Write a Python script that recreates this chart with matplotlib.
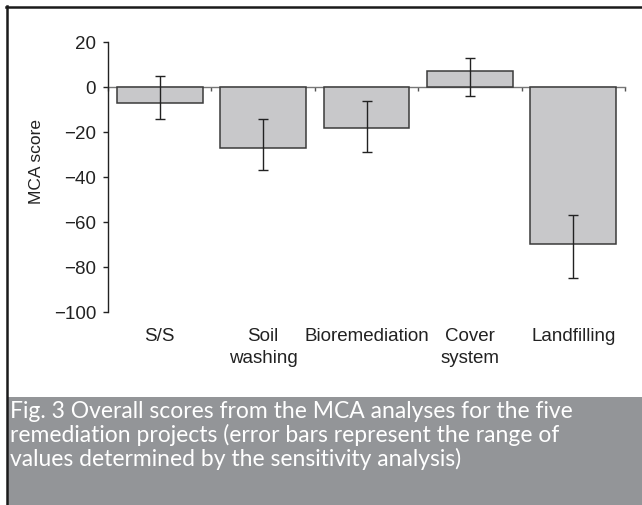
"""
MCA score chart for the five remediation projects (Fig. 3).
"""

import matplotlib
matplotlib.use("Agg")

import matplotlib.pyplot as plt
from matplotlib.patches import Rectangle
from matplotlib.lines import Line2D


# =========================================================
# Data
# =========================================================

PROJECTS = ["S/S", "Soil\nwashing", "Bioremediation", "Cover\nsystem", "Landfilling"]

MCA_SCORE = [-7, -27, -18, 7, -70]

RANGE_LOW = [-14, -37, -29, -4, -85]

RANGE_HIGH = [5, -14, -6, 13, -57]

Y_TICKS = [20, 0, -20, -40, -60, -80, -100]

CAPTION = ("Fig. 3 Overall scores from the MCA analyses for the five\n"
           "remediation projects (error bars represent the range of\n"
           "values determined by the sensitivity analysis)")


# =========================================================
# Style
# =========================================================

AXIS_FONT = "Liberation Sans"
CAPTION_FONT = "Lato"

BAR_FILL = "#c8c8ca"
BAR_EDGE = "#3a3a3a"
CAPTION_BG = "#939598"
TEXT_SIZE = 13.5


def main():

    fig = plt.figure(figsize=(6.42, 5.06), dpi=100)
    fig.patch.set_facecolor("white")

    # caption band and frame
    fig.patches.append(Rectangle((8 / 642, 0), 1, 108 / 506,
                                 transform=fig.transFigure,
                                 facecolor=CAPTION_BG, edgecolor="none",
                                 zorder=0))
    fig.lines.append(Line2D([6 / 642, 1], [1 - 7.5 / 506, 1 - 7.5 / 506],
                            transform=fig.transFigure, color="#1a1a1a",
                            linewidth=1.8))
    fig.lines.append(Line2D([7 / 642, 7 / 642], [0, 1 - 6.5 / 506],
                            transform=fig.transFigure, color="#1a1a1a",
                            linewidth=1.8))

    fig.text(10 / 642, 1 - 401 / 506, CAPTION, color="white",
             fontsize=16.5, family=CAPTION_FONT,
             va="top", ha="left", linespacing=1.1)

    ax = fig.add_axes([108 / 642, 193 / 506, 517 / 642, 270 / 506])
    ax.set_facecolor("none")

    x = list(range(len(PROJECTS)))
    lower = [s - lo for s, lo in zip(MCA_SCORE, RANGE_LOW)]
    upper = [hi - s for s, hi in zip(MCA_SCORE, RANGE_HIGH)]

    ax.bar(x, MCA_SCORE, width=0.83, color=BAR_FILL, edgecolor=BAR_EDGE,
           linewidth=1.1, zorder=3)
    ax.errorbar(x, MCA_SCORE, yerr=[lower, upper], fmt="none",
                ecolor="#222222", elinewidth=1.0, capsize=3.5,
                capthick=1.0, zorder=4)

    ax.set_xlim(-0.5, len(PROJECTS) - 0.5)
    ax.set_ylim(-100, 20)
    ax.set_yticks(Y_TICKS)

    for spine in ["top", "right"]:
        ax.spines[spine].set_visible(False)
    ax.spines["left"].set_color("#222222")
    ax.spines["left"].set_linewidth(1.0)
    ax.spines["bottom"].set_position(("data", 0))
    ax.spines["bottom"].set_color("#777777")
    ax.spines["bottom"].set_linewidth(1.0)
    ax.spines["bottom"].set_zorder(2)

    ax.tick_params(axis="y", direction="out", length=3.5, width=1.0,
                   color="#222222", pad=5, labelsize=TEXT_SIZE,
                   labelcolor="#222222")
    ax.set_yticklabels([f"{t}".replace("-", "\u2212") for t in Y_TICKS],
                       family=AXIS_FONT)

    # ticks between categories on the zero line, labels below the plot
    ax.set_xticks([i + 0.5 for i in range(-1, len(PROJECTS))], minor=True)
    ax.set_xticks([])
    ax.tick_params(axis="x", which="minor", direction="out", length=3,
                   width=1.0, color="#555555")

    for i, name in enumerate(PROJECTS):
        ax.text(i, -0.055, name, transform=ax.get_xaxis_transform(),
                ha="center", va="top", fontsize=TEXT_SIZE, family=AXIS_FONT,
                color="#222222", linespacing=1.4)

    ax.set_ylabel("MCA score", fontsize=12.5, family=AXIS_FONT,
                  color="#222222")
    ax.yaxis.set_label_coords(-0.124, 0.56)

    fig.savefig("out.png", dpi=100)
    plt.close(fig)


if __name__ == "__main__":

    main()
